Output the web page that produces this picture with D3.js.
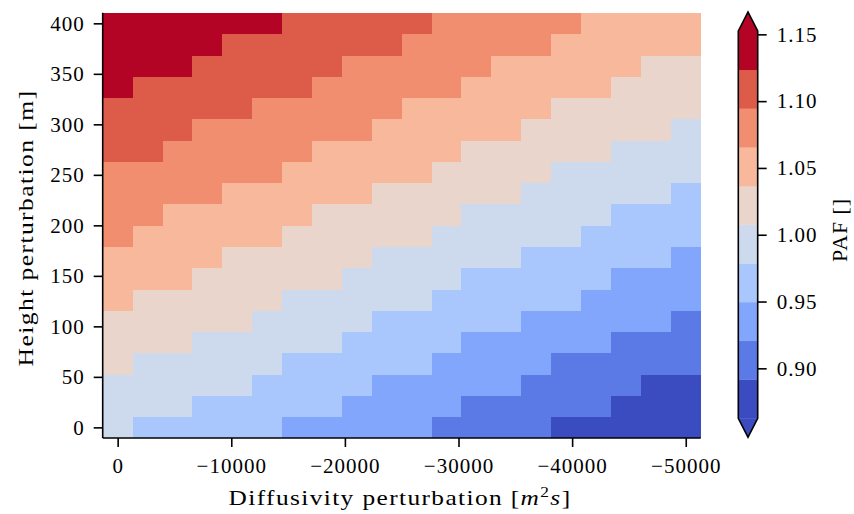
<!DOCTYPE html>
<html>
<head>
<meta charset="utf-8">
<script src="https://cdn.jsdelivr.net/npm/d3@7"></script>
<style>
  body { margin: 0; background: #fff; }
  text { font-family: "Liberation Serif", serif; fill: #000; }
</style>
</head>
<body>
<div id="chart"></div>
<script>
// cell centres
const diffusivity = [0, -2632, -5263, -7895, -10526, -13158, -15789, -18421, -21053, -23684,
  -26316, -28947, -31579, -34211, -36842, -39474, -42105, -44737, -47368, -50000];
const heights = [0, 21.05, 42.11, 63.16, 84.21, 105.26, 126.32, 147.37, 168.42, 189.47,
  210.53, 231.58, 252.63, 273.68, 294.74, 315.79, 336.84, 357.89, 378.95, 400];

// PAF, one row per height (bottom row first), one value per diffusivity
const paf = [
  [0.993, 0.964, 0.964, 0.964, 0.964, 0.964, 0.935, 0.935, 0.935, 0.935, 0.935, 0.906, 0.906, 0.906, 0.906, 0.877, 0.877, 0.877, 0.877, 0.877],
  [0.993, 0.993, 0.993, 0.964, 0.964, 0.964, 0.964, 0.964, 0.935, 0.935, 0.935, 0.935, 0.906, 0.906, 0.906, 0.906, 0.906, 0.877, 0.877, 0.877],
  [0.993, 0.993, 0.993, 0.993, 0.993, 0.964, 0.964, 0.964, 0.964, 0.935, 0.935, 0.935, 0.935, 0.935, 0.906, 0.906, 0.906, 0.906, 0.877, 0.877],
  [1.022, 0.993, 0.993, 0.993, 0.993, 0.993, 0.964, 0.964, 0.964, 0.964, 0.964, 0.935, 0.935, 0.935, 0.935, 0.906, 0.906, 0.906, 0.906, 0.906],
  [1.022, 1.022, 1.022, 0.993, 0.993, 0.993, 0.993, 0.993, 0.964, 0.964, 0.964, 0.964, 0.935, 0.935, 0.935, 0.935, 0.935, 0.906, 0.906, 0.906],
  [1.022, 1.022, 1.022, 1.022, 1.022, 0.993, 0.993, 0.993, 0.993, 0.964, 0.964, 0.964, 0.964, 0.964, 0.935, 0.935, 0.935, 0.935, 0.935, 0.906],
  [1.051, 1.022, 1.022, 1.022, 1.022, 1.022, 0.993, 0.993, 0.993, 0.993, 0.993, 0.964, 0.964, 0.964, 0.964, 0.964, 0.935, 0.935, 0.935, 0.935],
  [1.051, 1.051, 1.051, 1.022, 1.022, 1.022, 1.022, 1.022, 0.993, 0.993, 0.993, 0.993, 0.964, 0.964, 0.964, 0.964, 0.964, 0.935, 0.935, 0.935],
  [1.051, 1.051, 1.051, 1.051, 1.022, 1.022, 1.022, 1.022, 1.022, 0.993, 0.993, 0.993, 0.993, 0.993, 0.964, 0.964, 0.964, 0.964, 0.964, 0.935],
  [1.080, 1.051, 1.051, 1.051, 1.051, 1.051, 1.022, 1.022, 1.022, 1.022, 1.022, 0.993, 0.993, 0.993, 0.993, 0.993, 0.964, 0.964, 0.964, 0.964],
  [1.080, 1.080, 1.051, 1.051, 1.051, 1.051, 1.051, 1.022, 1.022, 1.022, 1.022, 1.022, 0.993, 0.993, 0.993, 0.993, 0.993, 0.964, 0.964, 0.964],
  [1.080, 1.080, 1.080, 1.080, 1.051, 1.051, 1.051, 1.051, 1.051, 1.022, 1.022, 1.022, 1.022, 1.022, 0.993, 0.993, 0.993, 0.993, 0.993, 0.964],
  [1.080, 1.080, 1.080, 1.080, 1.080, 1.080, 1.051, 1.051, 1.051, 1.051, 1.051, 1.022, 1.022, 1.022, 1.022, 0.993, 0.993, 0.993, 0.993, 0.993],
  [1.109, 1.109, 1.080, 1.080, 1.080, 1.080, 1.080, 1.051, 1.051, 1.051, 1.051, 1.051, 1.022, 1.022, 1.022, 1.022, 1.022, 0.993, 0.993, 0.993],
  [1.109, 1.109, 1.109, 1.080, 1.080, 1.080, 1.080, 1.080, 1.080, 1.051, 1.051, 1.051, 1.051, 1.051, 1.022, 1.022, 1.022, 1.022, 1.022, 0.993],
  [1.109, 1.109, 1.109, 1.109, 1.109, 1.080, 1.080, 1.080, 1.080, 1.080, 1.051, 1.051, 1.051, 1.051, 1.051, 1.022, 1.022, 1.022, 1.022, 1.022],
  [1.138, 1.109, 1.109, 1.109, 1.109, 1.109, 1.109, 1.080, 1.080, 1.080, 1.080, 1.080, 1.051, 1.051, 1.051, 1.051, 1.051, 1.022, 1.022, 1.022],
  [1.138, 1.138, 1.138, 1.109, 1.109, 1.109, 1.109, 1.109, 1.080, 1.080, 1.080, 1.080, 1.080, 1.051, 1.051, 1.051, 1.051, 1.051, 1.022, 1.022],
  [1.138, 1.138, 1.138, 1.138, 1.109, 1.109, 1.109, 1.109, 1.109, 1.109, 1.080, 1.080, 1.080, 1.080, 1.080, 1.051, 1.051, 1.051, 1.051, 1.051],
  [1.138, 1.138, 1.138, 1.138, 1.138, 1.138, 1.109, 1.109, 1.109, 1.109, 1.109, 1.080, 1.080, 1.080, 1.080, 1.080, 1.051, 1.051, 1.051, 1.051]
];

const levels = [0.8626, 0.8916, 0.9206, 0.9496, 0.9786, 1.0076, 1.0365, 1.0655, 1.0945, 1.1235, 1.1525];
const levelColors = ["#3b4cc0", "#5b7ae5", "#82a6fb", "#aac7fd", "#cdd9ec",
  "#e9d5cb", "#f7b89c", "#f18e70", "#dd5c49", "#b40426"];

const xTicks = [0, -10000, -20000, -30000, -40000, -50000];
const yTicks = [0, 50, 100, 150, 200, 250, 300, 350, 400];
const cbTicks = [0.90, 0.95, 1.00, 1.05, 1.10, 1.15];

const width = 854, height = 514;
const margin = { top: 12.7, right: 153.3, bottom: 76, left: 102.7 };
const tickFont = "21px";
const labelFont = "22px";

const svg = d3.select("#chart").append("svg")
  .attr("width", width)
  .attr("height", height);

// cell edges from the centres
function edges(c) {
  const e = [c[0] - (c[1] - c[0]) / 2];
  for (let i = 1; i < c.length; i++) e.push((c[i - 1] + c[i]) / 2);
  e.push(c[c.length - 1] + (c[c.length - 1] - c[c.length - 2]) / 2);
  return e;
}
const xe = edges(diffusivity);
const ye = edges(heights);

const x = d3.scaleLinear()
  .domain([xe[0], xe[xe.length - 1]])
  .range([margin.left, width - margin.right]);

const y = d3.scaleLinear()
  .domain([ye[0], ye[ye.length - 1]])
  .range([height - margin.bottom, margin.top]);

const color = d3.scaleThreshold()
  .domain(levels.slice(1, -1))
  .range(levelColors);

const cells = [];
paf.forEach((row, i) => row.forEach((v, j) => cells.push({ i, j, v })));

svg.append("g")
  .selectAll("rect")
  .data(cells)
  .join("rect")
  .attr("x", d => x(xe[d.j]))
  .attr("y", d => y(ye[d.i + 1]))
  .attr("width", d => x(xe[d.j + 1]) - x(xe[d.j]) + 0.4)
  .attr("height", d => y(ye[d.i]) - y(ye[d.i + 1]) + 0.4)
  .attr("fill", d => color(d.v))
  .attr("shape-rendering", "crispEdges");

function styleTicks(g) {
  g.selectAll(".tick line").attr("stroke", "#000").attr("stroke-width", 1.6);
  g.selectAll(".tick text")
    .style("font-family", "Liberation Serif")
    .style("font-size", tickFont)
    .style("letter-spacing", "1px");
}

// axes
const xAxis = svg.append("g")
  .attr("transform", `translate(0,${height - margin.bottom})`)
  .call(d3.axisBottom(x).tickValues(xTicks).tickFormat(d3.format("d")).tickSize(9).tickPadding(11));

const yAxis = svg.append("g")
  .attr("transform", `translate(${margin.left},0)`)
  .call(d3.axisLeft(y).tickValues(yTicks).tickFormat(d3.format("d")).tickSize(9).tickPadding(9));

[xAxis, yAxis].forEach(g => {
  g.select(".domain").attr("stroke", "#000").attr("stroke-width", 1.6);
  styleTicks(g);
});
xAxis.select(".domain").attr("d", `M${margin.left},0H${width - margin.right}`);
yAxis.select(".domain").attr("d", `M0,${height - margin.bottom}V${margin.top}`);

// widen a label to the width the serif face takes in the original
function placeLabel(t, cx, cy, angle, target) {
  const w = t.node().getBBox().width;
  t.attr("transform", `translate(${cx},${cy}) rotate(${angle}) scale(${target / w},1)`);
}

const xLabel = svg.append("text")
  .attr("text-anchor", "middle")
  .style("font-size", labelFont)
  .style("letter-spacing", "1.2px");
xLabel.append("tspan").text("Diffusivity perturbation [");
xLabel.append("tspan").style("font-style", "italic").text("m");
xLabel.append("tspan").attr("dy", -8).style("font-size", "15px").text("2");
xLabel.append("tspan").attr("dy", 8).style("font-style", "italic").text("s");
xLabel.append("tspan").text("]");
placeLabel(xLabel, 400, 505, 0, 343);

const yLabel = svg.append("text")
  .attr("text-anchor", "middle")
  .style("font-size", labelFont)
  .style("letter-spacing", "1.2px")
  .text("Height perturbation [m]");
placeLabel(yLabel, 33, 228, -90, 277);

// colorbar
const cb = { x: 738.3, w: 19.4, top: 31, bottom: 418.3, tip: 19 };
const cy = d3.scaleLinear()
  .domain([levels[0], levels[levels.length - 1]])
  .range([cb.bottom, cb.top]);

const cbar = svg.append("g");
cbar.selectAll("rect")
  .data(levelColors)
  .join("rect")
  .attr("x", cb.x)
  .attr("y", (d, i) => cy(levels[i + 1]))
  .attr("width", cb.w)
  .attr("height", (d, i) => cy(levels[i]) - cy(levels[i + 1]) + 0.3)
  .attr("fill", d => d);

const mid = cb.x + cb.w / 2;
cbar.append("path")
  .attr("d", `M${cb.x},${cb.top}L${mid},${cb.top - cb.tip}L${cb.x + cb.w},${cb.top}Z`)
  .attr("fill", levelColors[levelColors.length - 1]);
cbar.append("path")
  .attr("d", `M${cb.x},${cb.bottom}L${mid},${cb.bottom + cb.tip}L${cb.x + cb.w},${cb.bottom}Z`)
  .attr("fill", levelColors[0]);
cbar.append("path")
  .attr("d", `M${cb.x},${cb.top}L${mid},${cb.top - cb.tip}L${cb.x + cb.w},${cb.top}` +
    `L${cb.x + cb.w},${cb.bottom}L${mid},${cb.bottom + cb.tip}L${cb.x},${cb.bottom}Z`)
  .attr("fill", "none")
  .attr("stroke", "#000")
  .attr("stroke-width", 1.6);

const cbAxis = svg.append("g")
  .attr("transform", `translate(${cb.x + cb.w},0)`)
  .call(d3.axisRight(cy).tickValues(cbTicks).tickFormat(d3.format(".2f")).tickSize(9).tickPadding(10));
cbAxis.select(".domain").remove();
styleTicks(cbAxis);

const cbLabel = svg.append("text")
  .attr("text-anchor", "middle")
  .style("font-size", labelFont)
  .style("letter-spacing", "1px")
  .text("PAF []");
placeLabel(cbLabel, 847, 230, -90, 64);
</script>
</body>
</html>
